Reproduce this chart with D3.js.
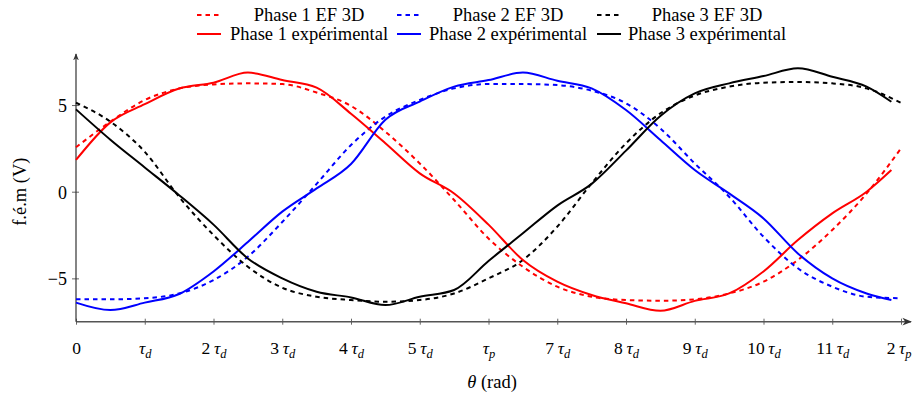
<!DOCTYPE html>
<html>
<head>
<meta charset="utf-8">
<script src="https://cdn.jsdelivr.net/npm/d3@7"></script>
<style>
  html, body { margin: 0; padding: 0; background: #fff; }
  svg { display: block; }
  text { font-family: "Liberation Serif", "DejaVu Serif", serif; fill: #000; }
</style>
</head>
<body>
<svg id="chart" width="912" height="394"></svg>
<script>
// ---------- data (theta in units of tau_d) ----------
const thetaEF  = [0,0.5,1,1.5,2,2.5,3,3.5,4,4.5,5,5.5,6,6.5,7,7.5,8,8.5,9,9.5,10,10.5,11,11.5,12];
const thetaExp = [0,0.5,1,1.5,2,2.5,3,3.5,4,4.5,5,5.5,6,6.5,7,7.5,8,8.5,9,9.5,10,10.5,11,11.5,11.86];

const phase1EF  = [2.56,4.04,5.29,5.95,6.19,6.25,6.21,5.72,4.95,3.46,1.63,-0.48,-2.7,-4.33,-5.48,-6.06,-6.25,-6.29,-6.21,-5.87,-5.19,-3.94,-2.21,-0.1,2.5];
const phase2EF  = [-6.21,-6.21,-6.15,-5.87,-5.1,-3.75,-1.75,0.45,2.69,4.33,5.29,5.96,6.21,6.21,6.15,5.83,5.1,3.65,1.63,-0.29,-2.6,-4.42,-5.48,-6.06,-6.15];
const phase3EF  = [5.13,4.04,2.3,-0.3,-2.5,-4.33,-5.54,-6.06,-6.25,-6.35,-6.25,-5.87,-5.0,-3.94,-2.02,0.48,2.79,4.52,5.55,6.06,6.29,6.33,6.25,5.96,5.13];

const phase1Exp = [1.83,4.0,5.05,5.95,6.29,6.87,6.44,6.0,4.5,2.8,1.06,-0.1,-1.9,-3.94,-5.19,-5.96,-6.44,-6.87,-6.3,-5.87,-4.6,-2.79,-1.25,0.0,1.25];
const phase2Exp = [-6.4,-6.83,-6.4,-5.9,-4.6,-2.9,-1.15,0.19,1.6,4.15,5.2,6.06,6.44,6.87,6.4,5.96,4.71,2.98,1.25,-0.1,-1.54,-3.56,-5.0,-5.87,-6.25];
const phase3Exp = [4.75,3.0,1.4,-0.2,-1.9,-3.85,-5.0,-5.77,-6.1,-6.54,-6.06,-5.67,-4.0,-2.4,-0.8,0.45,2.37,4.37,5.67,6.25,6.67,7.12,6.63,6.06,5.19];

const xTicks = [0,1,2,3,4,5,6,7,8,9,10,11,12];
const xTickLabels = ["0","τ_d","2 τ_d","3 τ_d","4 τ_d","5 τ_d","τ_p","7 τ_d","8 τ_d","9 τ_d","10 τ_d","11 τ_d","2 τ_p"];
const yTicks = [-5,0,5];

const seriesNames = ["Phase 1 EF 3D","Phase 2 EF 3D","Phase 3 EF 3D","Phase 1 expérimental","Phase 2 expérimental","Phase 3 expérimental"];
const seriesColors = ["#ff0000","#0000ff","#000000","#ff0000","#0000ff","#000000"];

// ---------- chart ----------
const W = 912;
const svg = d3.select("#chart");
const x = d3.scaleLinear().domain([0, 12]).range([76, 901]);
const y = d3.scaleLinear().domain([-7.5, 7.5]).range([321.7, 61.7]);

const series = [
  {name: seriesNames[0], color: seriesColors[0], xs: thetaEF,  ys: phase1EF,  dashed: true},
  {name: seriesNames[1], color: seriesColors[1], xs: thetaEF,  ys: phase2EF,  dashed: true},
  {name: seriesNames[2], color: seriesColors[2], xs: thetaEF,  ys: phase3EF,  dashed: true},
  {name: seriesNames[3], color: seriesColors[3], xs: thetaExp, ys: phase1Exp, dashed: false},
  {name: seriesNames[4], color: seriesColors[4], xs: thetaExp, ys: phase2Exp, dashed: false},
  {name: seriesNames[5], color: seriesColors[5], xs: thetaExp, ys: phase3Exp, dashed: false}
];

const line = d3.line().x(d => x(d[0])).y(d => y(d[1])).curve(d3.curveMonotoneX);

// axes
const axisColor = "#555";
const gx = svg.append("g").attr("transform", `translate(0,${y(-7.5)})`)
  .call(d3.axisBottom(x).tickValues(xTicks).tickSize(0).tickFormat(""));
gx.select(".domain").remove();
const gy = svg.append("g").attr("transform", `translate(${x(0)},0)`)
  .call(d3.axisLeft(y).tickValues(yTicks).tickSize(0).tickFormat(""));
gy.select(".domain").remove();

// axis lines with arrows
svg.append("defs").append("marker")
  .attr("id", "arrow").attr("viewBox", "0 0 10 10").attr("refX", 9).attr("refY", 5)
  .attr("markerWidth", 6).attr("markerHeight", 6).attr("orient", "auto")
  .append("path").attr("d", "M0,1 L10,5 L0,9 L3,5 Z").attr("fill", "#333");

svg.append("line").attr("x1", x(0)).attr("x2", 911).attr("y1", y(-7.5)).attr("y2", y(-7.5))
  .attr("stroke", axisColor).attr("stroke-width", 1.6).attr("marker-end", "url(#arrow)");
svg.append("line").attr("x1", x(0)).attr("x2", x(0)).attr("y1", y(-7.5)).attr("y2", 54)
  .attr("stroke", "#333").attr("stroke-width", 1.2).attr("marker-end", "url(#arrow)");

// ticks
gx.selectAll(".tick line").remove();
gx.selectAll(".tick").append("line").attr("y1", -3).attr("y2", 3).attr("stroke", axisColor).attr("stroke-width", 0.9);
gy.selectAll(".tick line").remove();
gy.selectAll(".tick").append("line").attr("x1", -4).attr("x2", 3).attr("stroke", axisColor).attr("stroke-width", 0.9);

// x tick labels with tau subscripts
gx.selectAll(".tick text").remove();
gx.selectAll(".tick").each(function(d, i) {
  const lbl = xTickLabels[i];
  const t = d3.select(this).append("text").attr("y", 32).attr("text-anchor", "middle")
    .style("font-size", "17.5px");
  const m = lbl.match(/^(\d*)\s*τ_(\w)$/);
  if (!m) { t.text(lbl); return; }
  if (m[1]) t.append("tspan").text(m[1] + "\u2009");
  t.append("tspan").style("font-style", "italic").text("τ");
  t.append("tspan").attr("dy", 4).style("font-size", "12.5px").style("font-style", "italic").text(m[2]);
  // keep the last label inside the picture
  const bb = this.getBBox ? t.node().getBBox() : null;
  const right = x(d) + bb.x + bb.width;
  if (right > W - 1) t.attr("x", (W - 1) - right);
});

gy.selectAll(".tick text").remove();
gy.selectAll(".tick").append("text").attr("x", -9).attr("dy", "0.35em").attr("text-anchor", "end")
  .style("font-size", "18px").text(d => d < 0 ? "\u2212" + Math.abs(d) : String(d));

// axis titles
const xt = svg.append("text").attr("x", 492).attr("y", 388).attr("text-anchor", "middle").style("font-size", "18.5px");
xt.append("tspan").style("font-style", "italic").text("θ");
xt.append("tspan").text(" (rad)");
svg.append("text").attr("transform", `translate(26,${y(0)}) rotate(-90)`).attr("text-anchor", "middle")
  .style("font-size", "18.5px").text("f.é.m (V)");

// curves
svg.append("g").selectAll("path").data(series).join("path")
  .attr("d", s => line(s.xs.map((v, i) => [v, s.ys[i]])))
  .attr("fill", "none")
  .attr("stroke", s => s.color)
  .attr("stroke-width", 2)
  .attr("stroke-dasharray", s => s.dashed ? "4.5,4" : null);

// legend
const colX = [197, 397, 597];
const textCenters = [309, 508, 707];
const rowY = [15, 34];
const leg = svg.append("g");
series.forEach((s, i) => {
  const row = s.dashed ? 0 : 1;
  const col = i % 3;
  const g = leg.append("g");
  g.append("line").attr("x1", colX[col]).attr("x2", colX[col] + 24)
    .attr("y1", rowY[row]).attr("y2", rowY[row])
    .attr("stroke", s.color).attr("stroke-width", 2)
    .attr("stroke-dasharray", s.dashed ? "4.5,4" : null);
  g.append("text").attr("x", textCenters[col]).attr("y", rowY[row] + 6)
    .attr("text-anchor", "middle").style("font-size", "18.5px").text(s.name);
});
</script>
</body>
</html>
